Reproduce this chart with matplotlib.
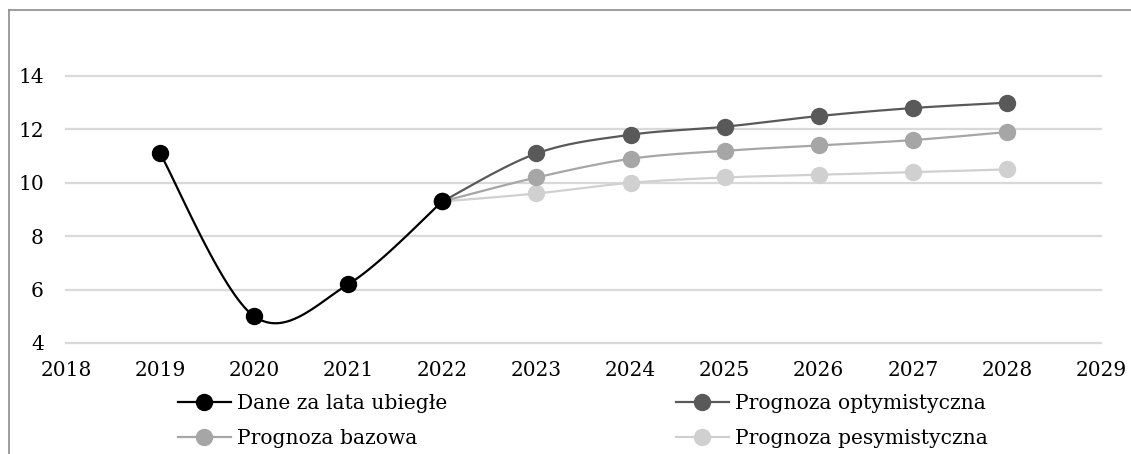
#!/usr/bin/python3

import numpy as np
import matplotlib
matplotlib.use("Agg")
import matplotlib.pyplot as plt
from matplotlib.lines import Line2D

# past data and the three forecast variants
years_past = [2019, 2020, 2021, 2022]
values_past = [11.1, 5.0, 6.2, 9.3]

years_fc = [2022, 2023, 2024, 2025, 2026, 2027, 2028]
values_opt = [9.3, 11.1, 11.8, 12.1, 12.5, 12.8, 13.0]
values_base = [9.3, 10.2, 10.9, 11.2, 11.4, 11.6, 11.9]
values_pes = [9.3, 9.6, 10.0, 10.2, 10.3, 10.4, 10.5]

labels = ["Dane za lata ubiegłe", "Prognoza optymistyczna",
          "Prognoza bazowa", "Prognoza pesymistyczna"]
colors = ["#000000", "#595959", "#a6a6a6", "#d0d0d0"]

x_ticks = list(range(2018, 2030))
y_ticks = [4, 6, 8, 10, 12, 14]


def smooth(xs, ys, n=40):
    '''Catmull-Rom style bezier smoothing through every point.'''
    p = np.column_stack([xs, ys]).astype(float)
    p = np.vstack([p[0], p, p[-1]])
    out = []
    for i in range(1, len(p) - 2):
        a, b = p[i], p[i + 1]
        c1 = a + (p[i + 1] - p[i - 1]) / 6.0
        c2 = b - (p[i + 2] - p[i]) / 6.0
        t = np.linspace(0, 1, n)[:, None]
        seg = ((1 - t) ** 3) * a + 3 * ((1 - t) ** 2) * t * c1 \
            + 3 * (1 - t) * t ** 2 * c2 + t ** 3 * b
        out.append(seg if i == 1 else seg[1:])
    curve = np.vstack(out)
    return curve[:, 0], curve[:, 1]


def draw(ax, xs, ys, color, z):
    sx, sy = smooth(xs, ys)
    ax.plot(sx, sy, color=color, lw=1.6, zorder=z, solid_capstyle="round")
    ax.plot(xs, ys, "o", color=color, ms=11.5, zorder=z + 0.5)


def main():
    plt.rcParams["font.family"] = "DejaVu Serif"
    fig = plt.figure(figsize=(11.31, 4.54), dpi=100)
    ax = fig.add_axes([66 / 1131, 1 - 343 / 454,
                       (1101 - 66) / 1131, (343 - 76) / 454])

    draw(ax, years_fc, values_pes, colors[3], 3)
    draw(ax, years_fc, values_base, colors[2], 4)
    draw(ax, years_fc, values_opt, colors[1], 5)
    draw(ax, years_past, values_past, colors[0], 6)

    ax.set_xlim(2018, 2029)
    ax.set_ylim(4, 14)
    ax.set_xticks(x_ticks)
    ax.set_yticks(y_ticks)
    ax.tick_params(axis="both", length=0, labelsize=14.5, colors="#000000")
    ax.tick_params(axis="x", pad=13)
    ax.tick_params(axis="y", pad=16)
    ax.grid(axis="y", color="#d9d9d9", lw=1.6, zorder=0)
    ax.set_axisbelow(True)
    for gl in ax.get_ygridlines():
        gl.set_clip_on(False)
    for s in ax.spines.values():
        s.set_visible(False)

    # legend split into two columns
    handles = [Line2D([], [], color=c, lw=1.6, marker="o", ms=11.5)
               for c in colors]
    common = dict(loc="center left", frameon=False, fontsize=14.6,
                  handlelength=2.6, handletextpad=0.3, labelspacing=0.8,
                  borderpad=0, borderaxespad=0)
    fig.legend([handles[0], handles[2]], [labels[0], labels[2]],
               bbox_to_anchor=(178 / 1131, 1 - 421 / 454), **common)
    fig.legend([handles[1], handles[3]], [labels[1], labels[3]],
               bbox_to_anchor=(676 / 1131, 1 - 421 / 454), **common)

    # chart frame, only top and left edges are in view
    fig.add_artist(Line2D([9 / 1131, 1], [1 - 10 / 454, 1 - 10 / 454],
                          color="#8c8c8c", lw=1.2))
    fig.add_artist(Line2D([9 / 1131, 9 / 1131], [0, 1 - 10 / 454],
                          color="#8c8c8c", lw=1.2))

    fig.savefig("out.png", dpi=100, facecolor="white")


if __name__ == "__main__":
    main()
